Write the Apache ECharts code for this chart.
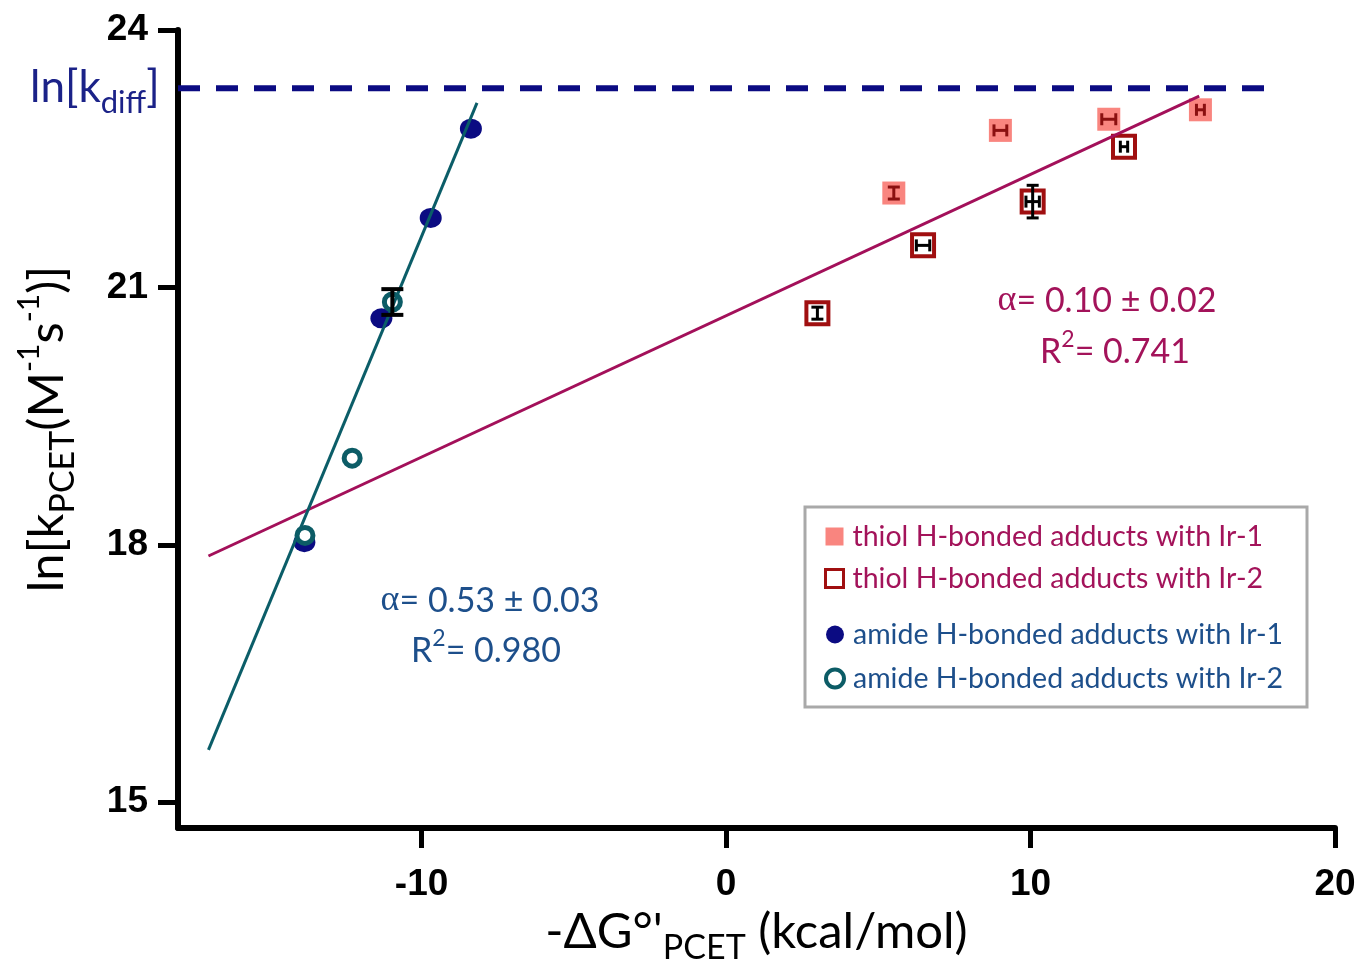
<!DOCTYPE html>
<html><head><meta charset="utf-8">
<script src="https://cdn.jsdelivr.net/npm/echarts@6/dist/echarts.min.js"></script>
<style>html,body{margin:0;padding:0;background:#fff}#c{width:1358px;height:962px}</style>
</head><body><div id="c"></div>
<script>
// ---- data ----
const xTicks = [-10, 0, 10, 20];
const yTicks = [15, 18, 21, 24];
const thiolIr1 = [[5.51, 22.10], [9.01, 22.83], [12.57, 22.96], [15.58, 23.07]];
const thiolIr1Err = [[0, 0.07], [0.21, 0], [0.23, 0], [0.13, 0]];      // [xErr, yErr]
const thiolIr2 = [[3.00, 20.70], [6.47, 21.49], [10.07, 22.00], [13.07, 22.64]];
const thiolIr2Err = [[0, 0.07], [0.22, 0], [0.22, 0.19], [0.12, 0]];
const amideIr1 = [[-8.38, 22.85], [-9.70, 21.81], [-11.32, 20.64], [-13.85, 18.03]];
const amideIr2 = [[-10.96, 20.83], [-12.28, 19.01], [-13.83, 18.11]];
const amideIr2Err = [[0, 0.15], [0, 0], [0, 0]];
const thiolFit = [[-17.0, 17.87], [15.54, 23.23]];
const amideFit = [[-17.0, 15.61], [-8.18, 23.15]];
const kDiff = 23.32;
const kDiffRange = [-18, 18];
const legendNames = ['thiol H-bonded adducts with Ir-1', 'thiol H-bonded adducts with Ir-2',
                     'amide H-bonded adducts with Ir-1', 'amide H-bonded adducts with Ir-2'];

const CRIMSON = '#a3135a', BLUE = '#1d4f8b', NAVY = '#0b0b82', TEAL = '#0c5c66';
const FONT = 'Lato';

function withErr(pts, errs) { return pts.map((p, i) => [p[0], p[1], errs[i][0], errs[i][1]]); }

function errSeries(data, color, cap, lw) {
  return {
    type: 'custom', z: 10, silent: true,
    data: data,
    encode: { x: 0, y: 1 },
    renderItem: function (params, api) {
      const x = api.value(0), y = api.value(1), ex = api.value(2), ey = api.value(3);
      const c = api.coord([x, y]);
      const st = { stroke: color, lineWidth: lw };
      const ch = [];
      if (ey > 0) {
        const t = api.coord([x, y + ey])[1], b = api.coord([x, y - ey])[1];
        ch.push({ type: 'line', shape: { x1: c[0], y1: t, x2: c[0], y2: b }, style: st });
        ch.push({ type: 'line', shape: { x1: c[0] - cap, y1: t, x2: c[0] + cap, y2: t }, style: st });
        ch.push({ type: 'line', shape: { x1: c[0] - cap, y1: b, x2: c[0] + cap, y2: b }, style: st });
      }
      if (ex > 0) {
        const l = api.coord([x - ex, y])[0], r = api.coord([x + ex, y])[0];
        ch.push({ type: 'line', shape: { x1: l, y1: c[1], x2: r, y2: c[1] }, style: st });
        ch.push({ type: 'line', shape: { x1: l, y1: c[1] - cap, x2: l, y2: c[1] + cap }, style: st });
        ch.push({ type: 'line', shape: { x1: r, y1: c[1] - cap, x2: r, y2: c[1] + cap }, style: st });
      }
      return { type: 'group', children: ch };
    }
  };
}

const chart = echarts.init(document.getElementById('c'));
const nameRich = {
  a: { fontSize: 49, fontFamily: FONT, color: '#000', lineHeight: 66 },
  sub: { fontSize: 34, fontFamily: FONT, color: '#000', lineHeight: 40, verticalAlign: 'bottom' },
  sup: { fontSize: 30, fontFamily: FONT, color: '#000', lineHeight: 30, verticalAlign: 'top' }
};
function annRich(col) {
  return {
    a: { fontSize: 34, fontFamily: FONT, fill: col, lineHeight: 48 },
    g: { fontSize: 36, fontFamily: 'Liberation Serif', fill: col, lineHeight: 48 },
    p: { fontSize: 23, fontFamily: FONT, fill: col, lineHeight: 23, verticalAlign: 'top' }
  };
}

chart.setOption({
  animation: false,
  backgroundColor: '#fff',
  grid: { left: 178, right: 23, top: 30, bottom: 134, containLabel: false, outerBoundsMode: 'none' },
  xAxis: {
    type: 'value', min: -18, max: 20,
    axisLine: { onZero: false, lineStyle: { color: '#000', width: 6 } },
    axisTick: { show: true, customValues: xTicks, length: 20, lineStyle: { color: '#000', width: 5 } },
    axisLabel: { customValues: xTicks, fontSize: 37, fontWeight: 'bold', fontFamily: 'Liberation Sans', color: '#000', margin: 38 },
    splitLine: { show: false },
    name: "{a|-ΔG°'}{sub|PCET}{a| (kcal/mol)}",
    nameLocation: 'middle', nameGap: 71,
    nameTextStyle: { rich: nameRich }
  },
  yAxis: {
    type: 'value', min: 14.7, max: 24,
    axisLine: { onZero: false, lineStyle: { color: '#000', width: 6 } },
    axisTick: { show: true, customValues: yTicks, length: 20, lineStyle: { color: '#000', width: 5 } },
    axisLabel: { customValues: yTicks, fontSize: 37, fontWeight: 'bold', fontFamily: 'Liberation Sans', color: '#000', margin: 30 },
    splitLine: { show: false },
    name: '{a|ln[k}{sub|PCET}{a|(M}{sup|-1}{a|s}{sup|-1}{a|)]}',
    nameLocation: 'middle', nameGap: 98,
    nameTextStyle: { rich: nameRich }
  },
  legend: [
    {
      orient: 'vertical', left: 819, top: 517, itemWidth: 18, itemHeight: 18, itemGap: 13,
      textStyle: { fontSize: 28.5, fontFamily: FONT, color: CRIMSON, lineHeight: 28, padding: [0, 0, 0, 4] },
      data: [legendNames[0], { name: legendNames[1], itemStyle: { borderWidth: 3 } }]
    },
    {
      orient: 'vertical', left: 819, top: 615, itemWidth: 18, itemHeight: 18, itemGap: 15,
      textStyle: { fontSize: 28.5, fontFamily: FONT, color: BLUE, lineHeight: 28, padding: [0, 0, 0, 4] },
      data: [{ name: legendNames[2], icon: 'circle' }, { name: legendNames[3], icon: 'circle', itemStyle: { borderWidth: 4 } }]
    }
  ],
  graphic: [
    { type: 'rect', z: -1, shape: { x: 805, y: 507, width: 502, height: 200 },
      style: { fill: '#fff', stroke: '#a9a9a9', lineWidth: 3 } },
    { type: 'text', x: 30, y: 88, style: {
        text: '{a|ln[k}{s|diff}{a|]}', verticalAlign: 'middle', align: 'left',
        rich: { a: { fontSize: 44, fontFamily: FONT, fill: '#1b2288', lineHeight: 60 },
                s: { fontSize: 31, fontFamily: FONT, fill: '#1b2288', lineHeight: 34, verticalAlign: 'bottom' } } } },
    { type: 'text', x: 1107, y: 301, style: {
        text: '{g|α}{a|= 0.10 ± 0.02}', align: 'center', verticalAlign: 'middle', rich: annRich(CRIMSON) } },
    { type: 'text', x: 1115, y: 352, style: {
        text: '{a|R}{p|2}{a|= 0.741}', align: 'center', verticalAlign: 'middle', rich: annRich(CRIMSON) } },
    { type: 'text', x: 490, y: 601, style: {
        text: '{g|α}{a|= 0.53 ± 0.03}', align: 'center', verticalAlign: 'middle', rich: annRich(BLUE) } },
    { type: 'text', x: 486, y: 651, style: {
        text: '{a|R}{p|2}{a|= 0.980}', align: 'center', verticalAlign: 'middle', rich: annRich(BLUE) } }
  ],
  series: [
    { name: 'kdiff', type: 'line', data: kDiffRange.map(x => [x, kDiff]), symbol: 'none', z: 3,
      lineStyle: { color: NAVY, width: 6, type: [22, 16] } },
    { name: legendNames[0], type: 'scatter', data: thiolIr1, symbol: 'rect', symbolSize: 23, z: 4,
      itemStyle: { color: '#f9857f', opacity: 1 } },
    { name: legendNames[1], type: 'scatter', data: thiolIr2, symbol: 'rect', symbolSize: 22, z: 4,
      itemStyle: { color: '#fff', borderColor: '#a00f10', borderWidth: 4, opacity: 1 } },
    { name: legendNames[2], type: 'scatter', data: amideIr1, symbol: 'circle', symbolSize: [22, 20], z: 4,
      itemStyle: { color: NAVY, opacity: 1 } },
    { name: legendNames[3], type: 'scatter', data: amideIr2, symbol: 'circle', symbolSize: 16, z: 5,
      itemStyle: { color: '#fff', borderColor: TEAL, borderWidth: 5, opacity: 1 } },
    { name: 'thiolFit', type: 'line', data: thiolFit, symbol: 'none', z: 6,
      lineStyle: { color: '#a3105a', width: 3 } },
    { name: 'amideFit', type: 'line', data: amideFit, symbol: 'none', z: 6,
      lineStyle: { color: '#0b5d68', width: 3 } },
    errSeries(withErr(thiolIr1, thiolIr1Err), '#8a1010', 6, 3),
    errSeries(withErr(thiolIr2, thiolIr2Err), '#000', 6, 3),
    errSeries(withErr(amideIr2, amideIr2Err), '#000', 11, 4)
  ]
});
</script></body></html>
